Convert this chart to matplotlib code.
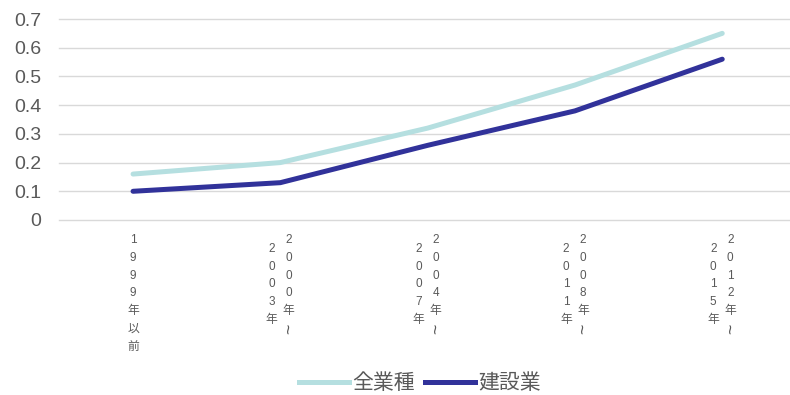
import matplotlib
matplotlib.use("Agg")
import matplotlib.pyplot as plt
from matplotlib.lines import Line2D

plt.rcParams["font.family"] = ["Liberation Sans", "Noto Sans CJK JP", "DejaVu Sans"]

# data
periods = ["1999年以前", "2000年~2003年", "2004年~2007年", "2008年~2011年", "2012年~2015年"]
all_industries = [0.16, 0.20, 0.32, 0.47, 0.65]
construction = [0.10, 0.13, 0.26, 0.38, 0.56]
series_names = ["全業種", "建設業"]

LIGHT = "#B5DFE0"
DARK = "#31329A"
TEXT = "#595959"

fig = plt.figure(figsize=(7.9, 3.95), dpi=100)
ax = fig.add_axes([59.4 / 790, 175 / 395, 730.6 / 790, 201 / 395])

x = list(range(len(periods)))
ax.plot(x, all_industries, color=LIGHT, lw=3.6, solid_capstyle="round", zorder=3)
ax.plot(x, construction, color=DARK, lw=3.6, solid_capstyle="round", zorder=4)

ax.set_xlim(-0.5, 4.46)
ax.set_ylim(0, 0.7)
ax.set_yticks([0, 0.1, 0.2, 0.3, 0.4, 0.5, 0.6, 0.7])
ax.set_yticklabels(["0", "0.1", "0.2", "0.3", "0.4", "0.5", "0.6", "0.7"])
ax.tick_params(axis="y", length=0, pad=13, labelsize=14, labelcolor=TEXT)
ax.set_xticks([])
ax.grid(axis="y", color="#D9D9D9", lw=1.0, zorder=0)
for gl in ax.get_ygridlines():
    gl.set_clip_on(False)
for s in ax.spines.values():
    s.set_visible(False)

# vertical category labels: one char per line, wrapped into a second column after "~"
STEP = 12.8   # pt between characters
TOP = -14.4   # pt below the axis for first character centre


def draw_column(i, chars, dx, dy0):
    for k, ch in enumerate(chars):
        wave = ch == "~"
        ax.annotate(ch, xy=(i, 0), xycoords=("data", "axes fraction"),
                    xytext=(dx + (0.6 if wave else 0), dy0 - k * STEP),
                    textcoords="offset points",
                    fontsize=13 if wave else 8.5, color=TEXT,
                    ha="center", va="center", rotation=90 if wave else 0,
                    annotation_clip=False)


for i, lab in enumerate(periods):
    if "~" in lab:
        first, second = lab.split("~")
        draw_column(i, first + "~", 5.8, TOP)
        draw_column(i, second, -6.5, TOP - STEP / 2)
    else:
        draw_column(i, lab, 0, TOP)

handles = [Line2D([], [], color=LIGHT, lw=3.6), Line2D([], [], color=DARK, lw=3.6)]
leg = fig.legend(handles, series_names, loc="center", ncol=2,
                 bbox_to_anchor=(420 / 790, 1 - 383 / 395), frameon=False,
                 fontsize=15, handlelength=2.4, handletextpad=0.15,
                 columnspacing=0.5)
for t in leg.get_texts():
    t.set_color(TEXT)

fig.savefig("out.png", dpi=100)
